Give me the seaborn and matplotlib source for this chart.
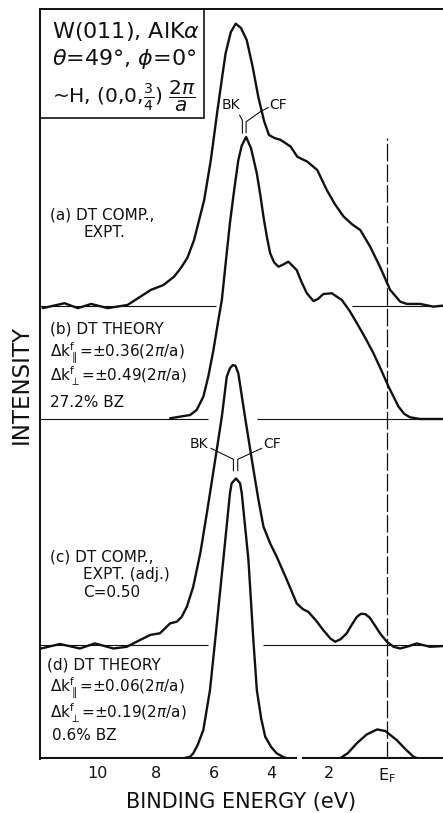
import numpy as np
import matplotlib
matplotlib.use("Agg")
import matplotlib.pyplot as plt
from matplotlib.patches import Rectangle
import seaborn as sns

# ---------------- data (binding energy in eV, intensity in % of peak) -------------
a_E = [11.91, 11.15, 10.69, 10.23, 9.66, 8.97, 8.54, 8.16, 7.73, 7.36, 7.13, 6.90, 6.67,
       6.32, 6.09, 5.86, 5.70, 5.58, 5.40, 5.23, 5.05, 4.85, 4.65, 4.45, 4.25, 4.08, 3.88,
       3.68, 3.33, 3.10, 2.76, 2.41, 2.08, 1.80, 1.50, 1.20, 0.92, 0.58, 0.24, -0.11, -0.46,
       -0.69, -1.15, -1.60, -1.94]
a_I = [-0.9, 0.85, -0.9, 0.6, -0.9, 0.25, 3.1, 5.6, 7.3, 10.3, 13.3, 17.0, 23.3,
       37.5, 51.7, 69.4, 81.0, 89.5, 97.0, 100.0, 98.5, 94.2, 85.0, 74.1, 65.5, 60.5, 59.4,
       58.8, 56.4, 52.8, 51.1, 48.1, 41.0, 36.0, 31.6, 28.8, 26.8, 20.9, 13.8, 5.6, 1.4,
       0.6, 0.6, -0.35, 0.0]

b_E = [7.50, 6.81, 6.58, 6.35, 6.18, 6.00, 5.83, 5.71, 5.57, 5.43, 5.28, 5.14, 5.02, 4.87,
       4.70, 4.50, 4.38, 4.27, 4.15, 4.04, 3.90, 3.75, 3.58, 3.41, 3.12, 2.95, 2.77, 2.54,
       2.38, 2.20, 1.91, 1.56, 1.30, 1.04, 0.75, 0.47, 0.20, -0.05, -0.40, -0.60, -0.80,
       -1.15, -1.94]
b_I = [0.25, 1.4, 3.2, 7.9, 15.0, 24.5, 35.1, 42.2, 56.0, 69.5, 81.5, 91.8, 97.0, 100.0,
       96.0, 87.1, 79.5, 71.7, 64.5, 58.8, 55.5, 54.0, 54.8, 55.8, 52.8, 48.5, 44.6, 41.8,
       42.6, 44.3, 44.6, 42.2, 38.5, 34.0, 28.8, 23.4, 17.4, 11.6, 4.4, 1.8, 0.6,
       0.0, 0.0]

c_E = [11.96, 11.31, 10.62, 10.10, 9.46, 9.00, 8.54, 8.19, 7.85, 7.50, 7.27, 7.10, 6.92,
       6.70, 6.45, 6.23, 5.94, 5.71, 5.54, 5.43, 5.33, 5.24, 5.14, 4.91, 4.67, 4.45, 4.27,
       4.04, 3.81, 3.46, 3.12, 2.90, 2.72, 2.45, 2.20, 1.95, 1.79, 1.60, 1.39, 1.20, 1.04,
       0.90, 0.75, 0.60, 0.46, 0.22, 0.00, -0.23, -0.46, -0.75, -1.03, -1.49, -1.94]
c_I = [-1.1, 0.5, -1.1, 0.7, -1.1, -0.5, 1.9, 3.7, 4.3, 7.8, 8.4, 10.1, 13.7,
       20.8, 33.0, 46.8, 65.8, 81.1, 95.3, 98.3, 99.4, 99.2, 96.5, 81.1, 65.7, 52.0, 42.1,
       36.2, 31.4, 23.2, 14.9, 12.8, 11.9, 8.8, 5.4, 2.4, 1.3, 2.2, 4.3, 7.6, 10.1,
       11.2, 11.1, 9.9, 7.8, 4.0, 1.3, -0.5, -1.1, -0.3, 0.7, -0.5, -0.25]

d_main_E = [7.33, 7.04, 6.81, 6.70, 6.55, 6.35, 6.12, 5.94, 5.66, 5.43, 5.37, 5.22, 5.08,
            5.02, 4.79, 4.62, 4.50, 4.35, 4.21, 4.00, 3.81, 3.60, 3.46, 3.18]
d_main_I = [0.0, 0.35, 0.9, 2.1, 5.0, 10.4, 24.6, 42.3, 70.7, 94.3, 97.9, 99.6, 97.9,
            94.3, 70.7, 42.3, 24.6, 14.5, 8.0, 4.3, 2.1, 0.9, 0.35, 0.0]
d_bump_E = [1.97, 1.62, 1.35, 1.04, 0.70, 0.34, 0.05, -0.34, -0.65, -0.92, -1.10, -1.32,
            -1.94]
d_bump_I = [0.0, 0.35, 2.2, 5.7, 8.8, 10.6, 10.0, 6.8, 3.5, 0.9, 0.2, 0.0, 0.0]

x_ticks = [10, 8, 6, 4, 2, 0]
x_ticklabels = ["10", "8", "6", "4", "2", r"$\mathregular{E_F}$"]

# ---------------- style ----------------
sns.set_style("white")
plt.rcParams["font.family"] = ["DejaVu Sans"]
plt.rcParams["mathtext.fontset"] = "dejavusans"

fig = plt.figure(figsize=(4.43, 8.13), dpi=100)
ax = fig.add_axes([40 / 443, 53.7 / 813, 403 / 443, 750.3 / 813])

XMAX, XMIN = 12.0, -1.94
YTOP = 266.1
off = {"a": 160.9, "b": 120.7, "c": 40.4, "d": 0.0}
LW = 1.7
INK = "#111111"

# baselines (thin), with the gaps seen in the figure
base_segs = {
    "a": [(XMAX, 5.91), (1.22, XMIN)],
    "b": [(XMAX, 6.18), (4.50, XMIN)],
    "c": [(XMAX, 6.18), (4.27, XMIN)],
}
for k, segs in base_segs.items():
    for x0, x1 in segs:
        ax.plot([x0, x1], [off[k], off[k]], color=INK, lw=0.8, solid_capstyle="butt")
# bottom axis line (with small gap)
for x0, x1 in [(XMAX, 3.11), (2.94, XMIN)]:
    ax.plot([x0, x1], [0.35, 0.35], color=INK, lw=1.5, solid_capstyle="butt")

# curves
for E, I, k in [(a_E, a_I, "a"), (b_E, b_I, "b"), (c_E, c_I, "c"),
                (d_main_E, d_main_I, "d"), (d_bump_E, d_bump_I, "d")]:
    sns.lineplot(x=E, y=np.array(I) + off[k], ax=ax, sort=False, estimator=None,
                 color=INK, lw=LW)
for ln in ax.lines:
    ln.set_solid_joinstyle("round")

# Fermi level dashed line
ax.plot([0, 0], [0, 220.2], color=INK, lw=0.9, dashes=(14, 2.5))

# info box
ax.add_patch(Rectangle((6.33, 227.3), XMAX - 6.33, YTOP - 227.3, fill=False,
                       edgecolor=INK, lw=1.2))
ax.text(11.58, 258.0, "W(011), AlK$\\alpha$", fontsize=16, ha="left", va="center", color=INK)
ax.text(11.58, 248.3, r"$\theta$=49°, $\phi$=0°", fontsize=16, ha="left", va="center", color=INK)
ax.text(11.58, 235.0, r"~H, (0,0,$\frac{3}{4}$) $\dfrac{2\pi}{a}$", fontsize=14.5, ha="left",
        va="center", color=INK)

fs = 11
# (a)
ax.text(11.65, 193.2, "(a) DT COMP.,", fontsize=fs, ha="left", va="center", color=INK)
ax.text(10.51, 186.8, "EXPT.", fontsize=fs, ha="left", va="center", color=INK)
# (b)
ax.text(11.65, 152.6, "(b) DT THEORY", fontsize=fs, ha="left", va="center", color=INK)
ax.text(11.65, 144.1, r"$\Delta\mathrm{k}_{\parallel}^{\mathrm{f}}$=±0.36(2$\pi$/a)", fontsize=fs,
        ha="left", va="center", color=INK)
ax.text(11.65, 135.9, r"$\Delta\mathrm{k}_{\perp}^{\mathrm{f}}$=±0.49(2$\pi$/a)", fontsize=fs,
        ha="left", va="center", color=INK)
ax.text(11.65, 126.5, "27.2% BZ", fontsize=fs, ha="left", va="center", color=INK)
# (c)
ax.text(11.65, 71.7, "(c) DT COMP.,", fontsize=fs, ha="left", va="center", color=INK)
ax.text(10.51, 65.4, "EXPT. (adj.)", fontsize=fs, ha="left", va="center", color=INK)
ax.text(10.51, 59.0, "C=0.50", fontsize=fs, ha="left", va="center", color=INK)
# (d)
ax.text(11.76, 33.4, "(d) DT THEORY", fontsize=fs, ha="left", va="center", color=INK)
ax.text(11.65, 25.3, r"$\Delta\mathrm{k}_{\parallel}^{\mathrm{f}}$=±0.06(2$\pi$/a)", fontsize=fs,
        ha="left", va="center", color=INK)
ax.text(11.65, 16.4, r"$\Delta\mathrm{k}_{\perp}^{\mathrm{f}}$=±0.19(2$\pi$/a)", fontsize=fs,
        ha="left", va="center", color=INK)
ax.text(11.58, 8.3, "0.6% BZ", fontsize=fs, ha="left", va="center", color=INK)

# BK / CF markers
fsm = 10
ax.text(5.39, 231.9, "BK", fontsize=fsm, ha="center", va="center", color=INK)
ax.text(3.76, 231.9, "CF", fontsize=fsm, ha="center", va="center", color=INK)
ax.plot([5.10, 5.00, 5.00], [228.5, 226.7, 222.0], color=INK, lw=0.8)
ax.plot([4.87, 4.87, 4.39, 4.10], [222.2, 226.1, 229.6, 231.2], color=INK, lw=0.8)

ax.text(6.49, 111.8, "BK", fontsize=fsm, ha="center", va="center", color=INK)
ax.text(3.98, 111.8, "CF", fontsize=fsm, ha="center", va="center", color=INK)
ax.plot([6.09, 5.31, 5.31], [110.3, 106.4, 102.3], color=INK, lw=0.8)
ax.plot([5.16, 5.16, 4.33], [102.3, 106.4, 110.3], color=INK, lw=0.8)

# axes
ax.set_xlim(XMAX, XMIN)
ax.set_ylim(0, YTOP)
ax.set_xticks(x_ticks)
ax.set_xticklabels(x_ticklabels)
ax.set_yticks([])
ax.tick_params(axis="x", direction="in", length=4, width=1, pad=5, labelsize=11.5,
               colors=INK)
for s in ["right", "bottom"]:
    ax.spines[s].set_visible(False)
for s in ["left", "top"]:
    ax.spines[s].set_linewidth(1.4)
    ax.spines[s].set_color(INK)
ax.set_xlabel("BINDING ENERGY (eV)", fontsize=15, labelpad=5, color=INK)
ax.set_ylabel("INTENSITY", fontsize=16.5, labelpad=5, color=INK)

fig.savefig("out.png", dpi=100)
